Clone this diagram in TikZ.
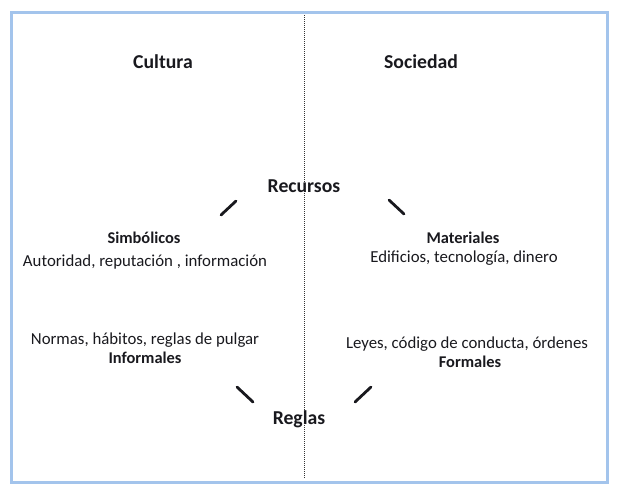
\documentclass[tikz,border=0pt]{standalone}
\usepackage{fontspec}
\setmainfont{Carlito}
\definecolor{FrameBlue}{RGB}{163,196,236}
\definecolor{InkDark}{RGB}{25,25,30}

\begin{document}
\begin{tikzpicture}[x=1pt,y=-1pt,
        head/.style={font=\fontsize{19.7}{23}\selectfont\bfseries,text=InkDark},
        sub/.style={font=\fontsize{16.4}{19}\selectfont\bfseries,text=InkDark},
        item/.style={font=\fontsize{16.8}{19}\selectfont,text=InkDark},
        tick/.style={line width=2.8pt,line cap=round,InkDark},
        divider/.style={dash pattern=on 1pt off 1pt,line width=1pt,black!80}
      ]
        \useasboundingbox (0,0) rectangle (617,491);
        \draw[FrameBlue,line width=3pt] (11,12) rectangle (607,482);
        \coordinate (top) at (304,15);
        \coordinate (bottom) at (304,478);
        \draw[divider] (top) -- (bottom);
        % column heads
        \node[head] (cultura) at (163,62) {Cultura};
        \node[head] (sociedad) at (421,62) {Sociedad};
        % resources
        \node[head] (recursos) at (304,186) {Recursos};
        \node[sub] (simbolicos) at (144,238) {Simbólicos};
        \node[item] (autoridad) at (145,262) {Autoridad, reputación , información};
        \node[sub] (materiales) at (463,238) {Materiales};
        \node[item] (edificios) at (464,258) {Edificios, tecnología, dinero};
        % rules
        \node[item] (normas) at (145,340) {Normas, hábitos, reglas de pulgar};
        \node[sub] (informales) at (145,358) {Informales};
        \node[item] (leyes) at (467,344) {Leyes, código de conducta, órdenes};
        \node[sub] (formales) at (470,362) {Formales};
        \node[head] (reglas) at (299,419) {Reglas};
        % short strokes
        \coordinate (t1a) at (221,215); \coordinate (t1b) at (236,201);
        \coordinate (t2a) at (389,200); \coordinate (t2b) at (404,214);
        \coordinate (t3a) at (237,387); \coordinate (t3b) at (253,402);
        \coordinate (t4a) at (355,402); \coordinate (t4b) at (371,387);
        \draw[tick] (t1a) -- (t1b);
        \draw[tick] (t2a) -- (t2b);
        \draw[tick] (t3a) -- (t3b);
        \draw[tick] (t4a) -- (t4b);
      \end{tikzpicture}
\end{document}
